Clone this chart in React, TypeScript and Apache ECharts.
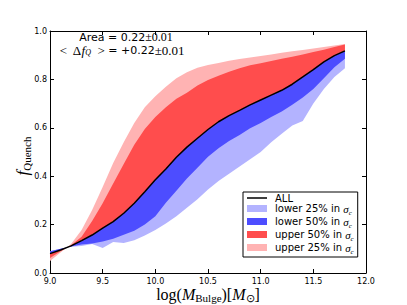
import React, { useEffect, useRef } from "react";
import * as echarts from "echarts";

const xs = [9.0, 9.1, 9.2, 9.3, 9.4, 9.5, 9.6, 9.7, 9.8, 9.9, 10.0, 10.1, 10.2, 10.3, 10.4, 10.5, 10.6, 10.7, 10.8, 10.9, 11.0, 11.1, 11.2, 11.3, 11.4, 11.5, 11.6, 11.7, 11.8];
const allFrac = [0.08, 0.095, 0.112, 0.134, 0.157, 0.185, 0.212, 0.247, 0.288, 0.336, 0.385, 0.43, 0.478, 0.52, 0.557, 0.593, 0.625, 0.65, 0.672, 0.695, 0.715, 0.735, 0.755, 0.78, 0.81, 0.84, 0.872, 0.898, 0.918];
const lower50 = [0.09, 0.1, 0.11, 0.118, 0.122, 0.13, 0.142, 0.158, 0.175, 0.2, 0.235, 0.29, 0.34, 0.39, 0.435, 0.48, 0.515, 0.545, 0.57, 0.598, 0.62, 0.645, 0.667, 0.695, 0.725, 0.76, 0.805, 0.85, 0.885];
const lower25 = [0.09, 0.1, 0.108, 0.112, 0.12, 0.103, 0.128, 0.124, 0.135, 0.155, 0.178, 0.205, 0.235, 0.27, 0.305, 0.345, 0.38, 0.41, 0.44, 0.47, 0.5, 0.54, 0.575, 0.61, 0.628, 0.7, 0.76, 0.81, 0.846];
const upper50 = [0.062, 0.09, 0.115, 0.15, 0.215, 0.288, 0.37, 0.45, 0.53, 0.595, 0.645, 0.685, 0.72, 0.745, 0.775, 0.798, 0.815, 0.832, 0.846, 0.858, 0.867, 0.876, 0.885, 0.894, 0.903, 0.913, 0.923, 0.934, 0.944];
const upper25 = [0.05, 0.085, 0.12, 0.178, 0.26, 0.355, 0.455, 0.54, 0.62, 0.685, 0.73, 0.77, 0.805, 0.83, 0.848, 0.86, 0.868, 0.877, 0.884, 0.89, 0.897, 0.903, 0.91, 0.916, 0.922, 0.928, 0.934, 0.94, 0.946];

const xRange = [9.0, 12.0];
const yRange = [0.0, 1.0];
const bandNames = ["lower 25%", "lower 50%", "upper 50%", "upper 25%"];
const bandColors = ["#b3b3ff", "#4d4dff", "#ff4d4d", "#ffb3b3"];
const bandCurves = [lower25, lower50, upper25, upper50];
const bandOrderNames = ["lower 25%", "lower 50%", "upper 25%", "upper 50%"];
const bandOrderColors = ["#b3b3ff", "#4d4dff", "#ffb3b3", "#ff4d4d"];

function bandSeries(name: string, curve: number[], color: string) {
  return {
    type: "custom",
    name,
    coordinateSystem: "cartesian2d",
    xAxisIndex: 0,
    yAxisIndex: 0,
    silent: true,
    itemStyle: { color },
    data: [[xs[0], curve[0]]],
    renderItem: (_params: any, api: any) => {
      const pts: number[][] = [];
      for (let i = 0; i < xs.length; i++) pts.push(api.coord([xs[i], curve[i]]));
      for (let i = xs.length - 1; i >= 0; i--) pts.push(api.coord([xs[i], allFrac[i]]));
      return { type: "polygon", shape: { points: pts }, style: { fill: color, stroke: null } };
    },
  };
}

const lineIcon = "path://M0,0L0.001,0L0,0.001ZM0,2.75H20V4.25H0ZM20,7L19.999,7L20,6.999Z";

export default function App() {
  const ref = useRef<HTMLDivElement>(null);
  useEffect(() => {
    if (!ref.current) return;
    const chart = echarts.init(ref.current, null, { renderer: "svg" });
    const axisCommon = {
      type: "value",
      splitLine: { show: false },
      axisLine: { show: true, onZero: false, lineStyle: { color: "#000", width: 1 } },
      axisTick: { show: true, inside: true, length: 4, lineStyle: { color: "#000" } },
    };
    const series: any[] = bandOrderNames.map((n, i) => bandSeries(n, bandCurves[i], bandOrderColors[i]));
    series.push({
      type: "line",
      name: "ALL",
      data: xs.map((x, i) => [x, allFrac[i]]),
      symbol: "none",
      lineStyle: { color: "#000", width: 1.5 },
      itemStyle: { color: "#000" },
      z: 5,
    });
    chart.setOption({
      animation: false,
      backgroundColor: "#fff",
      grid: { left: 50, top: 31, right: 41, bottom: 32, containLabel: false },
      xAxis: [
        {
          ...axisCommon,
          position: "bottom",
          min: xRange[0],
          max: xRange[1],
          interval: 0.5,
          axisLabel: { formatter: (v: number) => v.toFixed(1), fontSize: 8, color: "#000", fontFamily: "DejaVu Sans", margin: 4 },
        },
        {
          ...axisCommon,
          position: "top",
          min: xRange[0],
          max: xRange[1],
          interval: 0.5,
          axisLabel: { show: false },
        },
      ],
      yAxis: [
        {
          ...axisCommon,
          position: "left",
          min: yRange[0],
          max: yRange[1],
          interval: 0.2,
          axisLabel: { formatter: (v: number) => v.toFixed(1), fontSize: 8, color: "#000", fontFamily: "DejaVu Sans", margin: 3 },
        },
        {
          ...axisCommon,
          position: "right",
          min: yRange[0],
          max: yRange[1],
          interval: 0.2,
          axisLabel: { show: false },
        },
      ],
      legend: {
        orient: "vertical",
        left: 243,
        top: 192,
        padding: [1, 4, 2, 4],
        itemGap: 0,
        itemWidth: 20,
        itemHeight: 7,
        borderColor: "#000",
        borderWidth: 1,
        borderRadius: 0,
        backgroundColor: "#fff",
        data: [
          { name: "ALL", icon: lineIcon, itemStyle: { color: "#000" } },
          ...bandNames.map((n, i) => ({ name: n, icon: "rect", itemStyle: { color: bandColors[i] } })),
        ],
        formatter: (name: string) => (name === "ALL" ? "{t|ALL}" : `{t|${name} in }{s|σ}{c|c}`),
        textStyle: {
          color: "#000",
          rich: {
            t: { fontFamily: "DejaVu Sans", fontSize: 10, lineHeight: 15, color: "#000", padding: [0, 0, 0, 3] },
            s: { fontFamily: "Liberation Serif", fontStyle: "italic", fontSize: 11, lineHeight: 15, color: "#000" },
            c: { fontFamily: "Liberation Serif", fontStyle: "italic", fontSize: 7, lineHeight: 12, verticalAlign: "bottom", color: "#000" },
          },
        },
      },
      graphic: [
        {
          type: "text",
          x: 126,
          y: 37,
          style: {
            text: "{a|Area = 0.22}{m|±0.01}",
            textAlign: "center",
            textVerticalAlign: "middle",
            rich: {
              a: { fontFamily: "DejaVu Sans", fontSize: 11, fill: "#000", lineHeight: 11 },
              m: { fontFamily: "Liberation Serif", fontSize: 12, fill: "#000", lineHeight: 11 },
            },
          },
        },
        {
          type: "text",
          x: 122,
          y: 50,
          style: {
            text: "{m|<  Δ}{i|f}{q|Q}{m|  >}{a| = +0.22}{m|±0.01}",
            textAlign: "center",
            textVerticalAlign: "middle",
            rich: {
              a: { fontFamily: "DejaVu Sans", fontSize: 11, fill: "#000", lineHeight: 12 },
              m: { fontFamily: "Liberation Serif", fontSize: 13, fill: "#000", lineHeight: 12 },
              i: { fontFamily: "Liberation Serif", fontStyle: "italic", fontSize: 13, fill: "#000", lineHeight: 12 },
              q: { fontFamily: "Liberation Serif", fontStyle: "italic", fontSize: 8, fill: "#000", lineHeight: 8, verticalAlign: "bottom" },
            },
          },
        },
        {
          type: "text",
          x: 22,
          y: 156,
          rotation: Math.PI / 2,
          style: {
            text: "{f|f}{q|Quench}",
            textAlign: "center",
            textVerticalAlign: "middle",
            rich: {
              f: { fontFamily: "Liberation Serif", fontStyle: "italic", fontSize: 17, fill: "#000", lineHeight: 20 },
              q: { fontFamily: "Liberation Serif", fontSize: 11, fill: "#000", lineHeight: 13, verticalAlign: "bottom" },
            },
          },
        },
        {
          type: "text",
          x: 208,
          y: 294,
          style: {
            text: "{n|log(}{i|M}{s|Bulge}{n|)[}{i|M}{s|⊙}{n|]}",
            textAlign: "center",
            textVerticalAlign: "middle",
            rich: {
              n: { fontFamily: "Liberation Serif", fontSize: 16, fill: "#000", lineHeight: 18 },
              i: { fontFamily: "Liberation Serif", fontStyle: "italic", fontSize: 16, fill: "#000", lineHeight: 18 },
              s: { fontFamily: "Liberation Serif", fontSize: 11, fill: "#000", lineHeight: 13, verticalAlign: "bottom" },
            },
          },
        },
      ],
      series,
    });
    return () => chart.dispose();
  }, []);
  return <div ref={ref} style={{ position: "fixed", left: 0, top: 0, width: 407, height: 305 }} />;
}
